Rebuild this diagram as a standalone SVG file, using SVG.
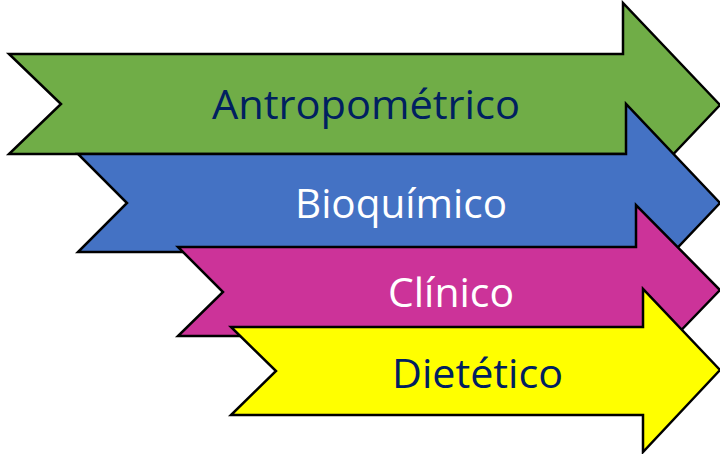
<svg xmlns="http://www.w3.org/2000/svg" width="720" height="454" viewBox="0 0 720 454">
<style>
.arrow{stroke:#000;stroke-width:2.5;stroke-linejoin:miter}
.lbl{font-family:"Open Sans","Noto Sans","Liberation Sans",sans-serif;font-size:40px}
.dark{fill:#002060}
.light{fill:#FFFFFF}
</style>
<rect width="720" height="454" fill="#FFFFFF"/>
<g id="node-antropometrico">
<polygon class="arrow" fill="#70AD47" points="9,54 623,54 623,3 720,105 623,207 623,154 9,154 61,104"/>
<text class="lbl dark" x="212" y="119" textLength="308" lengthAdjust="spacingAndGlyphs">Antropométrico</text>
</g>
<g id="node-bioquimico">
<polygon class="arrow" fill="#4472C4" points="78,154 626,154 626,104 720,203 626,302 626,252 78,252 127,203"/>
<text class="lbl light" x="295" y="218" textLength="212" lengthAdjust="spacingAndGlyphs">Bioquímico</text>
</g>
<g id="node-clinico">
<polygon class="arrow" fill="#CC3399" points="178,247 636,247 636,205 720,290 636,377 636,336 178,336 223,292"/>
<text class="lbl light" x="388" y="307" textLength="126" lengthAdjust="spacingAndGlyphs">Clínico</text>
</g>
<g id="node-dietetico">
<polygon class="arrow" fill="#FFFF00" points="231,327 643,327 643,289 720,370 643,452 643,415 231,415 276,371"/>
<text class="lbl dark" x="392" y="388" textLength="171" lengthAdjust="spacingAndGlyphs">Dietético</text>
</g>
<g id="connectors"></g>
</svg>
